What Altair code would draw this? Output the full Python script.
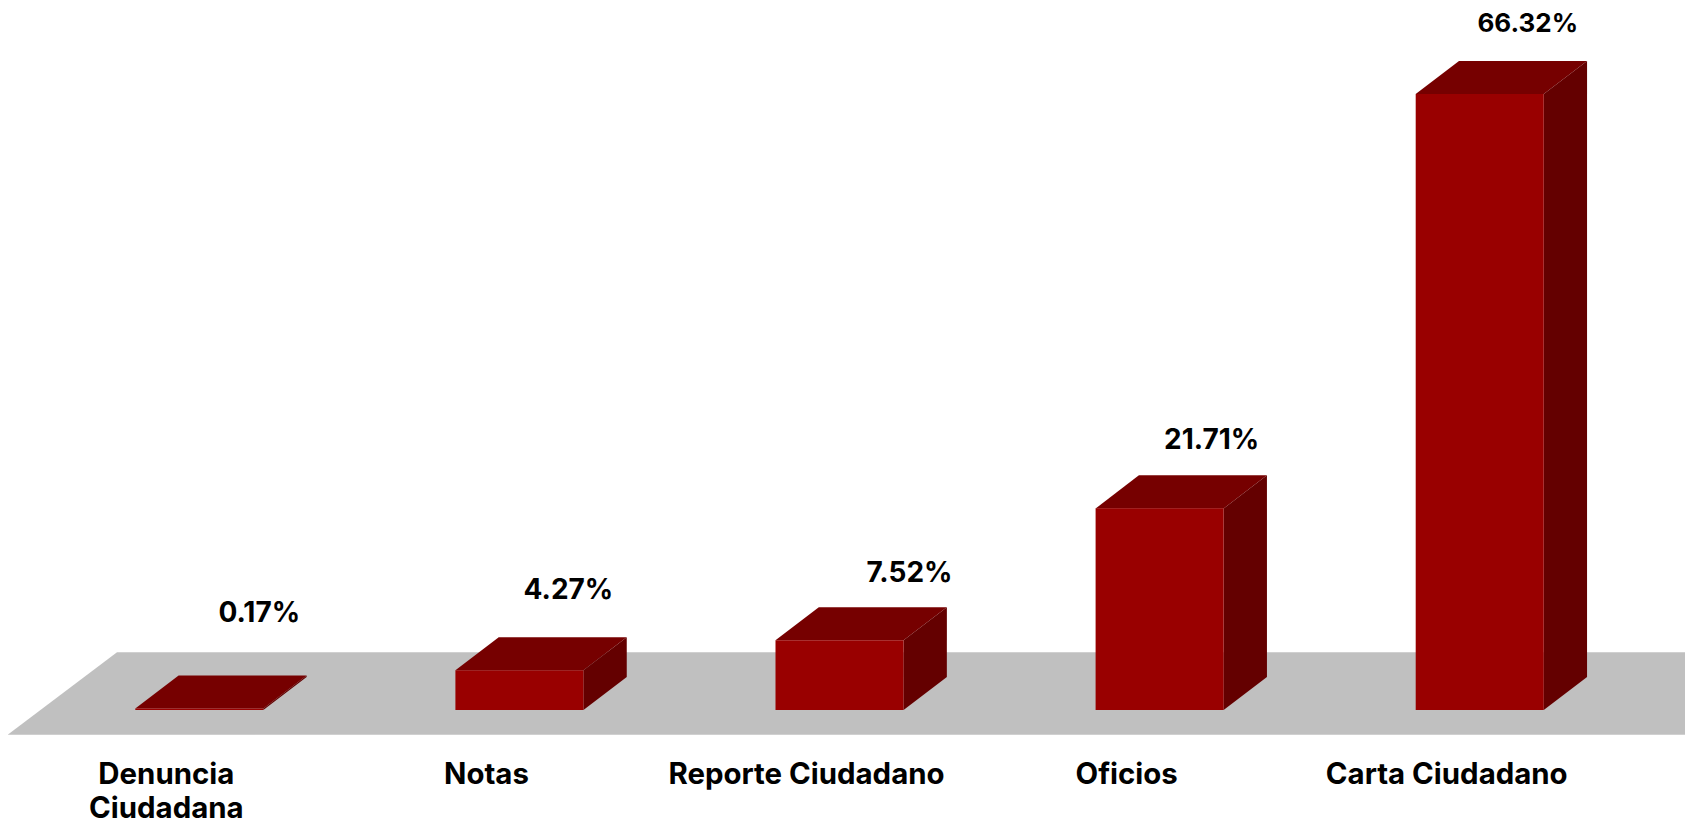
import altair as alt
import pandas as pd

CATEGORIES = ["Denuncia\nCiudadana", "Notas", "Reporte Ciudadano", "Oficios", "Carta Ciudadano"]
VALUES = [0.17, 4.27, 7.52, 21.71, 66.32]
VALUE_LABELS = ["0.17%", "4.27%", "7.52%", "21.71%", "66.32%"]

# layout (data units: x = category slots, y = percent)
BAR_W = 0.4
DEPTH_X = 0.1353
DEPTH_Y = 3.553
X_DOMAIN = [-0.3977, 4.8413]
Y_DOMAIN = [-12.27, 75.58]
FLOOR_X = [-0.399, 5.146]
FLOOR_Y = [-2.66, 6.21]
FLOOR_DX = 0.3418
VALUE_OFFSETS = [(60, -94), (49, -79), (70, -66), (52, -67), (48, -70)]
VALUE_SIZES = [28, 28, 28, 28, 26]
FONT = "Inter"
FS_CAT = 29.4

xs = alt.Scale(domain=X_DOMAIN, nice=False, zero=False)
ys = alt.Scale(domain=Y_DOMAIN, nice=False, zero=False)
X = alt.X("x:Q", scale=xs, axis=None)
Y = alt.Y("y:Q", scale=ys, axis=None)
X2 = alt.X2("x2:Q")
Y2 = alt.Y2("y2:Q")

floor_rows = [
    dict(x=FLOOR_X[0], y=FLOOR_Y[0], y2=FLOOR_Y[0]),
    dict(x=FLOOR_X[0] + FLOOR_DX, y=FLOOR_Y[0], y2=FLOOR_Y[1]),
    dict(x=FLOOR_X[1], y=FLOOR_Y[0], y2=FLOOR_Y[1]),
    dict(x=FLOOR_X[1] + FLOOR_DX, y=FLOOR_Y[1], y2=FLOOR_Y[1]),
]
front, top, side = [], [], []
for i, v in enumerate(VALUES):
    x0, x1 = float(i), i + BAR_W
    front.append(dict(x=x0, x2=x1, y=0.0, y2=v))
    top += [
        dict(b=i, x=x0, y=v, y2=v),
        dict(b=i, x=x0 + DEPTH_X, y=v, y2=v + DEPTH_Y),
        dict(b=i, x=x1, y=v, y2=v + DEPTH_Y),
        dict(b=i, x=x1 + DEPTH_X, y=v + DEPTH_Y, y2=v + DEPTH_Y),
    ]
    side += [
        dict(b=i, x=x1, y=0.0, y2=v),
        dict(b=i, x=x1 + DEPTH_X, y=DEPTH_Y, y2=v + DEPTH_Y),
    ]

layers = [
    alt.Chart(pd.DataFrame(floor_rows)).mark_area(color="#C0C0C0", orient="vertical")
    .encode(x=X, y=Y, y2=Y2),
    alt.Chart(pd.DataFrame(top)).mark_area(color="#760000", orient="vertical")
    .encode(x=X, y=Y, y2=Y2, detail="b:N"),
    alt.Chart(pd.DataFrame(side)).mark_area(color="#640000", orient="vertical")
    .encode(x=X, y=Y, y2=Y2, detail="b:N"),
    alt.Chart(pd.DataFrame(front)).mark_rect(color="#990000")
    .encode(x=X, x2=X2, y=Y, y2=Y2),
]
for i, (lab, cat, v, (dx, dy), fs) in enumerate(zip(VALUE_LABELS, CATEGORIES, VALUES, VALUE_OFFSETS, VALUE_SIZES)):
    cx = i + BAR_W / 2
    layers.append(
        alt.Chart(pd.DataFrame([dict(x=cx, y=v, t=lab)]))
        .mark_text(font=FONT, fontSize=fs, fontWeight="bold", color="black",
                   align="center", baseline="middle", dx=dx, dy=dy)
        .encode(x=X, y=Y, text="t:N")
    )
    layers.append(
        alt.Chart(pd.DataFrame([dict(x=cx, y=0.0, t=cat)]))
        .mark_text(font=FONT, fontSize=FS_CAT, fontWeight="bold", color="black",
                   align="center", baseline="alphabetic", dx=-33, dy=74,
                   lineBreak="\n", lineHeight=34)
        .encode(x=X, y=Y, text="t:N")
    )

chart = (
    alt.layer(*layers)
    .properties(width=1677, height=816, padding=0, background="white",
                autosize=alt.AutoSizeParams(type="none"))
    .configure_view(stroke=None)
)
chart.save("out.html", embed_options={"renderer": "svg", "actions": False})
